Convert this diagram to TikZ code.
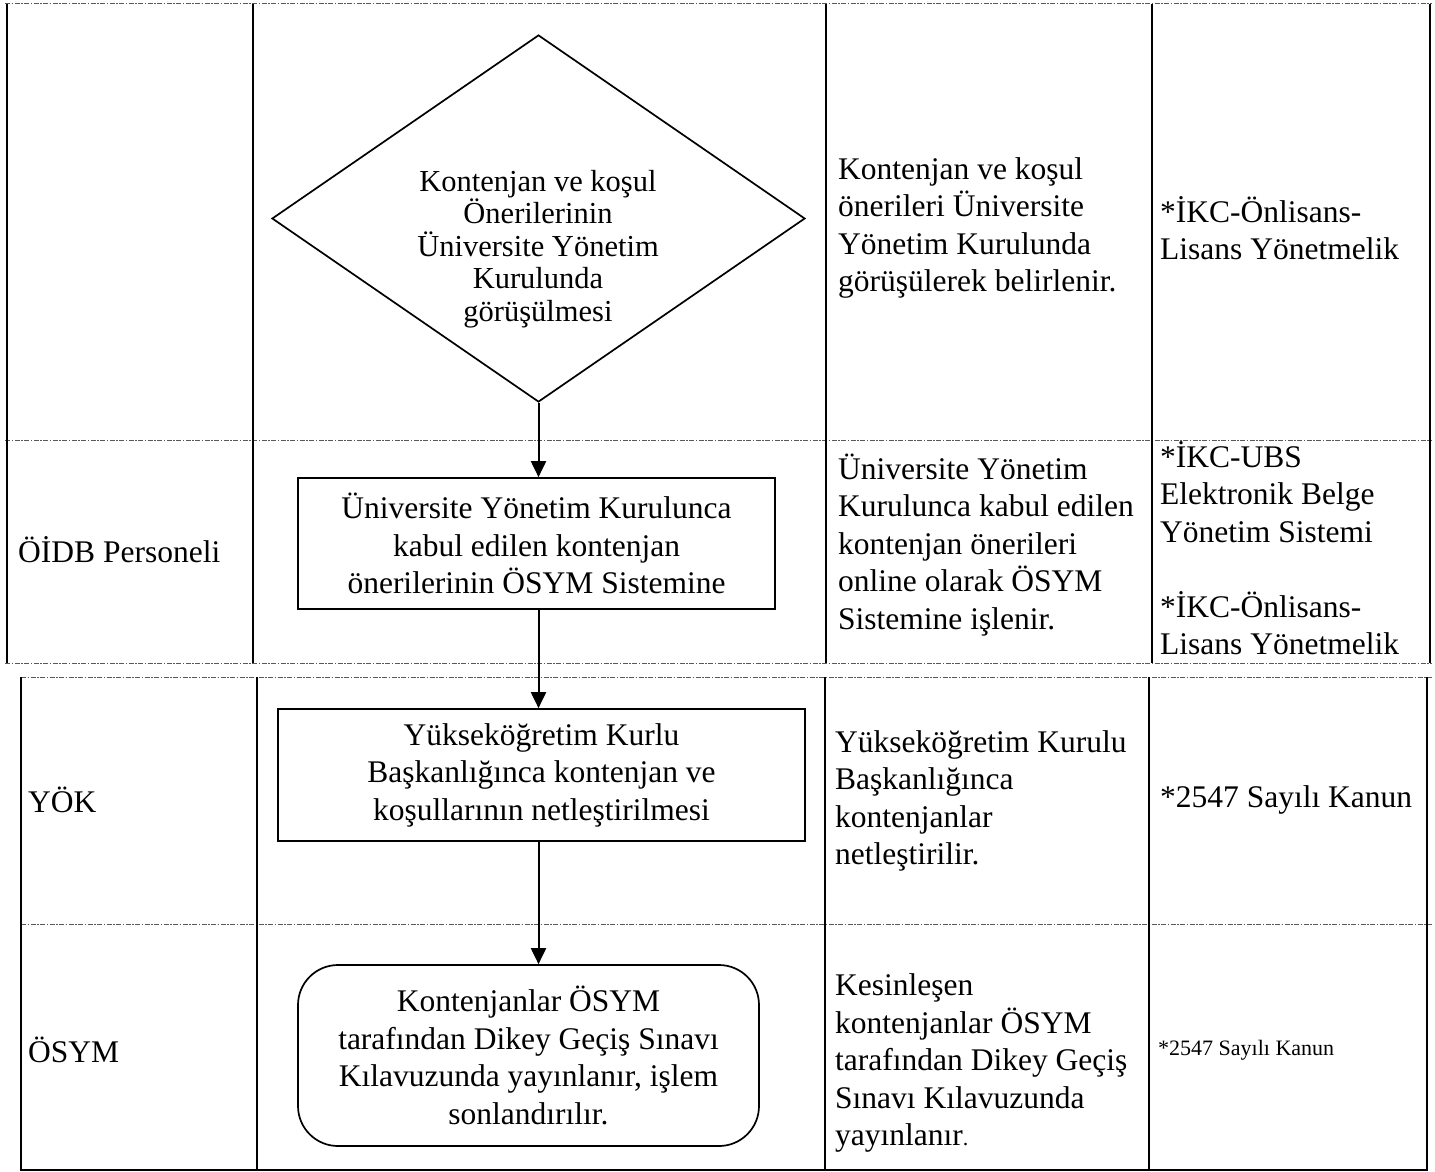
\documentclass[tikz,border=0pt]{standalone}
\usepackage{fontspec}
\setmainfont{Liberation Serif}
\usetikzlibrary{arrows.meta,shapes.geometric}
\begin{document}
\begin{tikzpicture}[x=1pt,y=-1pt,
  rule/.style={line width=2.6pt},
  sep/.style={line width=1pt,draw=black!65,dash pattern=on 5pt off 1.5pt on 1.5pt off 1.5pt},
  txt/.style={inner sep=0pt,anchor=west,align=left,font=\fontsize{31.5}{37.5}\selectfont},
  small/.style={inner sep=0pt,anchor=west,align=left,font=\fontsize{22}{26}\selectfont},
  procbox/.style={draw,line width=1.7pt,inner sep=0pt,align=center,font=\fontsize{31.5}{37.5}\selectfont},
  arr/.style={line width=2pt,-{Triangle[length=16pt,width=15pt]}}]
\useasboundingbox (0,0) rectangle (1435,1172);
% top table
\draw[sep] (5,4) -- (1432,4);
\draw[sep] (5,440) -- (1432,440);
\draw[sep] (5,663) -- (1432,663);
\foreach \x in {7,253,826,1152,1430} \draw[rule] (\x,4) -- (\x,663);
% bottom table
\draw[sep] (21,677) -- (1432,677);
\draw[sep] (21,924) -- (1432,924);
\foreach \x in {21,257,825,1149,1427} \draw[rule] (\x,677) -- (\x,1170);
\draw[rule] (19.7,1170) -- (1428.3,1170);
% flow shapes
\node[diamond,draw,line width=1.7pt,minimum width=533pt,minimum height=367pt,inner sep=0pt] (d) at (538.5,218.5) {};
\node[inner sep=0pt,align=center,font=\fontsize{30.5}{32.5}\selectfont] (dt) at (538,249) {Kontenjan ve koşul\\Önerilerinin\\Üniversite Yönetim\\Kurulunda\\görüşülmesi};
\node[procbox,minimum width=477pt,minimum height=131pt] (b1) at (536.5,543.5) {Üniversite Yönetim Kurulunca\\kabul edilen kontenjan\\önerilerinin ÖSYM Sistemine};
\node[procbox,minimum width=527pt,minimum height=132pt] (b2) at (541.5,775) {Yükseköğretim Kurlu\\Başkanlığınca kontenjan ve\\koşullarının netleştirilmesi};
\node[procbox,rounded corners=40pt,minimum width=461pt,minimum height=181pt] (b3) at (528.5,1055.5) {Kontenjanlar ÖSYM\\tarafından Dikey Geçiş Sınavı\\Kılavuzunda yayınlanır, işlem\\sonlandırılır.};
\draw[arr] (d.south) -- (d.south |- b1.north);
\draw[arr] (d.south |- b1.south) -- (d.south |- b2.north);
\draw[arr] (d.south |- b2.south) -- (d.south |- b3.north);
% column texts
\node[txt] (c3r1) at (838,228) {Kontenjan ve koşul\\önerileri Üniversite\\Yönetim Kurulunda\\görüşülerek belirlenir.};
\node[txt] (c4r1) at (1160,228) {*İKC-Önlisans-\\Lisans Yönetmelik};
\node[txt] (c1r2) at (18,550) {ÖİDB Personeli};
\node[txt] (c3r2) at (838,545) {Üniversite Yönetim\\Kurulunca kabul edilen\\kontenjan önerileri\\online olarak ÖSYM\\Sistemine işlenir.};
\node[txt] (c4r2) at (1160,548) {*İKC-UBS\\Elektronik Belge\\Yönetim Sistemi\\[37.5pt]*İKC-Önlisans-\\Lisans Yönetmelik};
\node[txt] (c1r3) at (28,800) {YÖK};
\node[txt] (c3r3) at (835,801) {Yükseköğretim Kurulu\\Başkanlığınca\\kontenjanlar\\netleştirilir.};
\node[txt] (c4r3) at (1160,800) {*2547 Sayılı Kanun};
\node[txt] (c1r4) at (28,1050) {ÖSYM};
\node[txt] (c3r4) at (835,1063) {Kesinleşen\\kontenjanlar ÖSYM\\tarafından Dikey Geçiş\\Sınavı Kılavuzunda\\yayınlanır{\fontsize{22}{26}\selectfont .}};
\node[small] (c4r4) at (1158,1050) {*2547 Sayılı Kanun};
\end{tikzpicture}
\end{document}
